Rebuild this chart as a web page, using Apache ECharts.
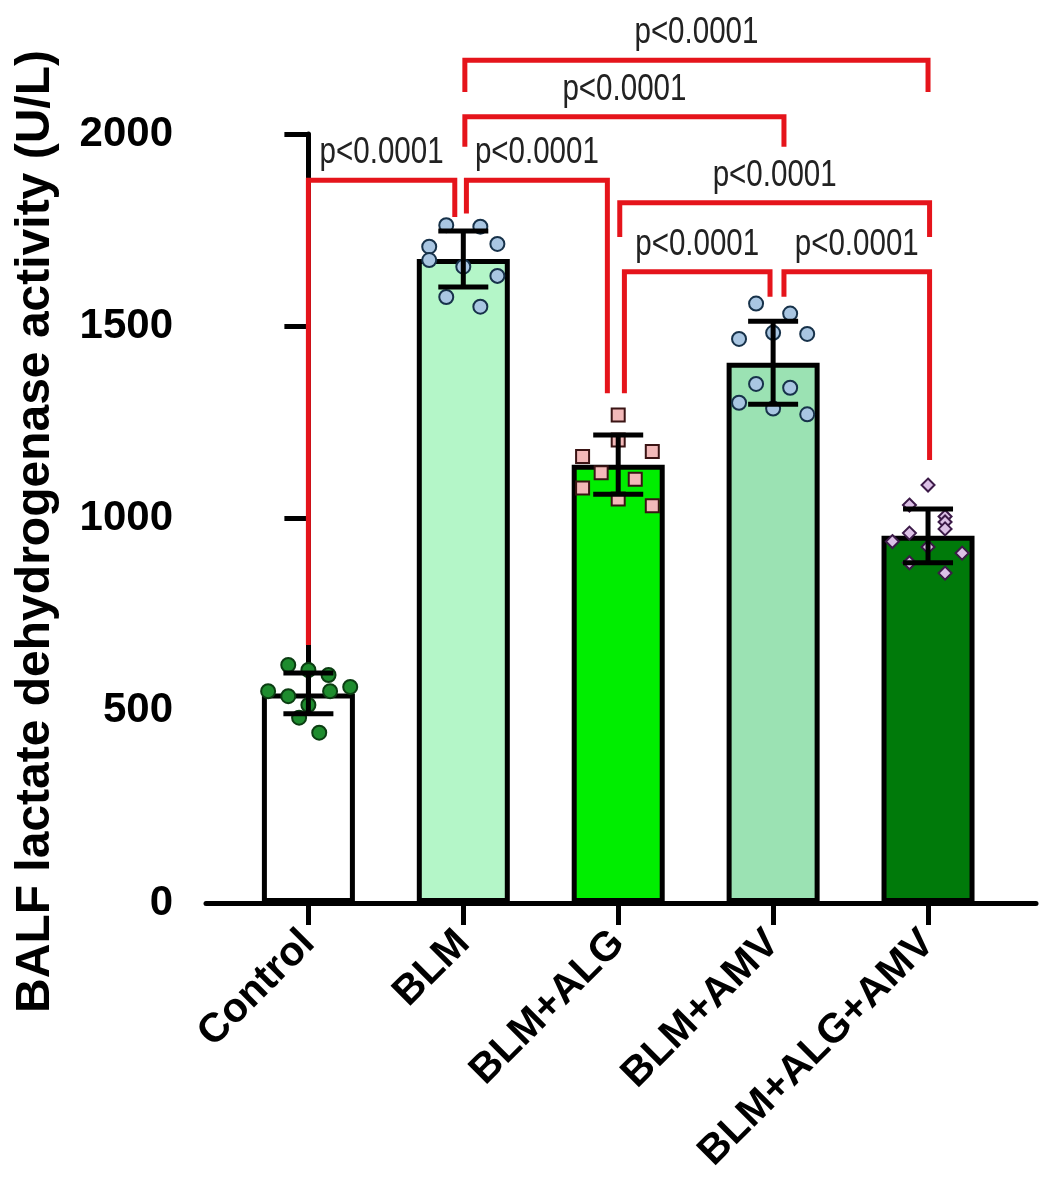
<!DOCTYPE html>
<html>
<head>
<meta charset="utf-8">
<script src="https://cdn.jsdelivr.net/npm/echarts@6/dist/echarts.min.js"></script>
<style>
    html, body {margin: 0; padding: 0; background: #fff;}
    #main {width: 1056px; height: 1197px;}
</style>
</head>
<body>
<div id="main"></div>
<script>
    // groups, bar means and SDs
    var groups = ['Control', 'BLM', 'BLM+ALG', 'BLM+AMV', 'BLM+ALG+AMV'];
    var means = [545, 1675, 1140, 1405, 955];
    var sds = [53, 73, 77, 108, 70];
    var yTicks = [0, 500, 1000, 1500, 2000];

    // individual animals (value) and their sideways jitter (in category units)
    var controlVals = [619, 606, 593, 551, 538, 551, 562, 482, 443, 515];
    var controlJitter = [-0.13, 0, 0.13, -0.26, -0.13, 0.14, 0.27, -0.06, 0.07, 0];
    var blmVals = [1763, 1759, 1707, 1672, 1714, 1631, 1576, 1551, 1655];
    var blmJitter = [-0.11, 0.11, -0.22, -0.22, 0.22, 0.22, -0.11, 0.11, 0];
    var algVals = [1269, 1204, 1161, 1174, 1119, 1102, 1079, 1051, 1033];
    var algJitter = [0, 0, -0.23, 0.22, -0.11, 0.11, -0.23, 0, 0.22];
    var amvVals = [1559, 1533, 1483, 1467, 1480, 1350, 1340, 1301, 1286, 1271];
    var amvJitter = [-0.11, 0.11, 0, -0.22, 0.22, -0.11, 0.11, -0.22, 0, 0.22];
    var algAmvVals = [1087, 1035, 1005, 991, 973, 962, 940, 926, 910, 885, 858];
    var algAmvJitter = [0, -0.12, 0.11, 0.11, 0.11, -0.12, -0.23, 0, 0.22, -0.12, 0.11];

    // significance brackets: legs x (category units), top level, left / right leg ends
    var pLabels = ['p<0.0001', 'p<0.0001', 'p<0.0001', 'p<0.0001', 'p<0.0001', 'p<0.0001', 'p<0.0001'];
    var bracketLeftX = [0.0, 1.02, 1.01, 1.01, 2.01, 2.04, 3.07];
    var bracketRightX = [0.945, 1.93, 3.07, 4.0, 4.01, 2.98, 4.01];
    var bracketTop = [1880, 1880, 2045, 2192, 1821, 1642, 1642];
    var bracketLeftEnd = [671, 1793, 1967, 2109, 1732, 1326, 1577];
    var bracketRightEnd = [1784, 1326, 1967, 2109, 1732, 1577, 1152];

    var barColors = ['#ffffff', '#b4f6c8', '#00ee00', '#9be2b3', '#007a0a'];
    var pointStyles = [
        {symbol: 'circle', size: 14, color: '#1e8c2e', border: '#0b3d12'},
        {symbol: 'circle', size: 14, color: '#a9c6e2', border: '#17324a'},
        {symbol: 'rect', size: 13, color: '#f3b9b9', border: '#3a1414'},
        {symbol: 'circle', size: 14, color: '#a9c6e2', border: '#17324a'},
        {symbol: 'diamond', size: 13, color: '#dcc0e6', border: '#3c1a48'}
    ];
    var allVals = [controlVals, blmVals, algVals, amvVals, algAmvVals];
    var allJitter = [controlJitter, blmJitter, algJitter, amvJitter, algAmvJitter];

    var FONT = 'Arial, "Liberation Sans", sans-serif';
    var RED = '#e5141b';

    var chart = echarts.init(document.getElementById('main'));

    var scatterSeries = allVals.map(function (vals, i) {
        var st = pointStyles[i];
        return {
            type: 'scatter', z: 3,
            symbol: st.symbol, symbolSize: st.size,
            itemStyle: {color: st.color, borderColor: st.border, borderWidth: 2, opacity: 1},
            data: vals.map(function (v, k) {
                return [i + allJitter[i][k], v];
            })
        };
    });

    chart.setOption({
        animation: false,
        backgroundColor: '#fff',
        grid: {left: 206, right: 20, top: 134, bottom: 294, containLabel: false, outerBoundsMode: 'none'},
        xAxis: {
            type: 'value', min: -0.661, max: 4.697,
            splitLine: {show: false},
            axisLine: {show: true, lineStyle: {color: '#000', width: 5}},
            axisTick: {show: true, length: 22, customValues: [0, 1, 2, 3, 4], lineStyle: {color: '#000', width: 5}},
            axisLabel: {
                customValues: [0, 1, 2, 3, 4], rotate: 45, margin: 34,
                color: '#000', fontSize: 41, fontWeight: 'bold', fontFamily: FONT,
                formatter: function (v) {
                    return groups[Math.round(v)];
                }
            }
        },
        yAxis: {
            type: 'value', min: yTicks[0], max: yTicks[yTicks.length - 1], interval: 500,
            name: 'BALF lactate dehydrogenase activity (U/L)',
            nameLocation: 'middle', nameGap: 146,
            nameTextStyle: {color: '#000', fontSize: 48, fontWeight: 'bold', fontFamily: FONT, padding: [0, 26, 0, 0]},
            splitLine: {show: false},
            axisLine: {show: true, lineStyle: {color: '#000', width: 5}},
            axisTick: {show: true, length: 24, lineStyle: {color: '#000', width: 5}},
            axisLabel: {
                color: '#000', fontSize: 42, fontWeight: 'bold', fontFamily: FONT, margin: 33,
                formatter: function (v) {
                    return String(v);
                }
            }
        },
        series: [
            {
                type: 'bar', z: 2, barWidth: 93,
                itemStyle: {borderColor: '#000', borderWidth: 5},
                data: means.map(function (m, i) {
                    return {value: [i, m], itemStyle: {color: barColors[i]}};
                })
            }
        ].concat(scatterSeries).concat([
            {
                type: 'custom', z: 4,
                renderItem: function (params, api) {
                    var x = api.value(0), m = api.value(1), sd = api.value(2);
                    var top = api.coord([x, m + sd]);
                    var bot = api.coord([x, m - sd]);
                    var half = 25;
                    var ls = {stroke: '#000', lineWidth: 5};
                    return {
                        type: 'group',
                        children: [
                            {type: 'line', shape: {x1: top[0], y1: top[1], x2: bot[0], y2: bot[1]}, style: ls},
                            {type: 'line', shape: {x1: top[0] - half, y1: top[1], x2: top[0] + half, y2: top[1]}, style: ls},
                            {type: 'line', shape: {x1: bot[0] - half, y1: bot[1], x2: bot[0] + half, y2: bot[1]}, style: ls}
                        ]
                    };
                },
                data: means.map(function (m, i) {
                    return [i, m, sds[i]];
                })
            },
            {
                type: 'custom', z: 5, clip: false,
                renderItem: function (params, api) {
                    var xl = api.value(0), xr = api.value(1), yt = api.value(2);
                    var pl = api.coord([xl, api.value(3)]);
                    var tl = api.coord([xl, yt]);
                    var tr = api.coord([xr, yt]);
                    var pr = api.coord([xr, api.value(4)]);
                    return {
                        type: 'group',
                        children: [
                            {
                                type: 'polyline',
                                shape: {points: [pl, tl, tr, pr]},
                                style: {stroke: RED, lineWidth: 5, fill: null, lineJoin: 'miter'}
                            },
                            {
                                type: 'text',
                                x: (tl[0] + tr[0]) / 2, y: tl[1] - 9,
                                scaleX: 0.82,
                                style: {
                                    text: pLabels[params.dataIndex],
                                    x: 0, y: 0,
                                    align: 'center', verticalAlign: 'bottom',
                                    fontSize: 36, fontFamily: FONT, fill: '#222'
                                }
                            }
                        ]
                    };
                },
                data: bracketTop.map(function (t, i) {
                    return [bracketLeftX[i], bracketRightX[i], t, bracketLeftEnd[i], bracketRightEnd[i]];
                })
            }
        ])
    });
</script>
</body>
</html>
